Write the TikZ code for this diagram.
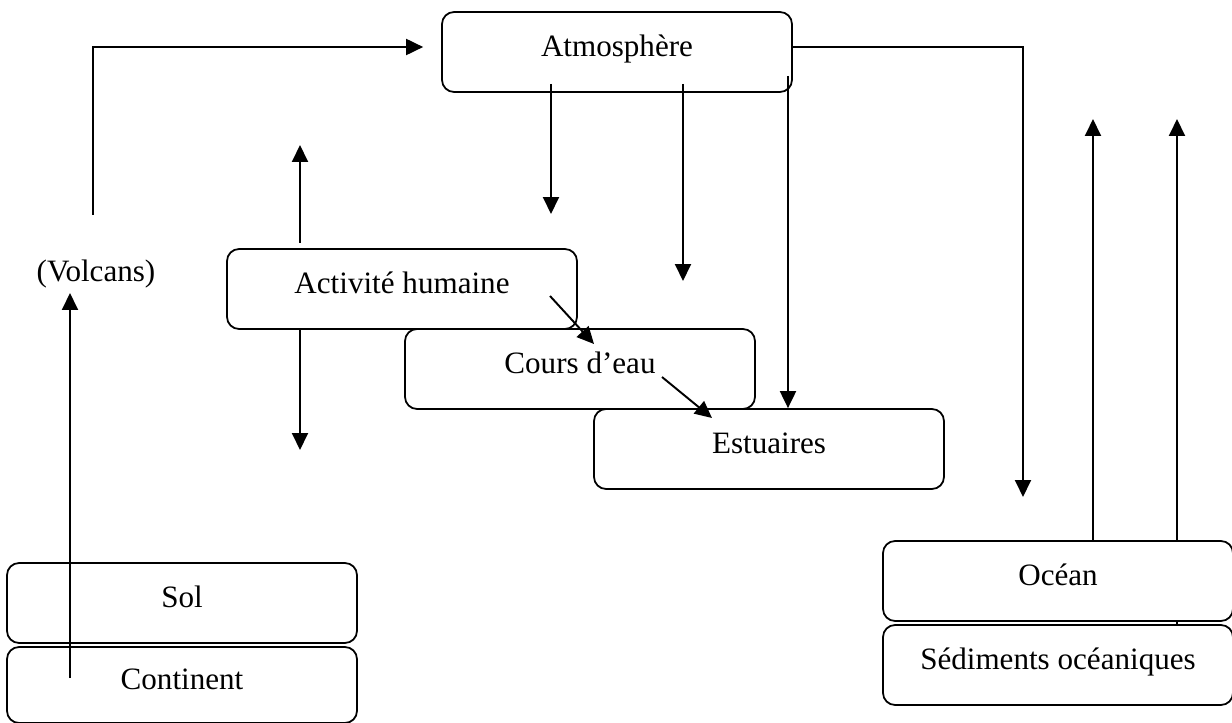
\documentclass[tikz,border=0pt]{standalone}
\usepackage{fontspec}
\setmainfont{Liberation Serif}
\usetikzlibrary{arrows.meta}

\tikzset{
  box/.style={draw, line width=1pt, rounded corners=0.24cm, minimum width=7cm, minimum height=1.6cm, text height=12pt, text depth=7pt},
  arr/.style={-{Triangle[length=0.34cm,width=0.32cm]}, line width=1.1pt},
}

\begin{document}
\begin{tikzpicture}[x=0.02cm, y=-0.02cm, font=\fontsize{17.7}{21}\selectfont]
		\useasboundingbox (0,0) rectangle (1232,723);
		\node[box] (atm) at (617,52) {Atmosphère};
		\node[box] (act) at (402,289) {Activité humaine};
		\node[box] (cours) at (580,369) {Cours d’eau};
		\node[box] (est) at (769,449) {Estuaires};
		\node[box] (sol) at (182,603) {Sol};
		\node[box, minimum height=1.52cm] (cont) at (182,685) {Continent};
		\node[box] (sed) at (1058,665) {Sédiments océaniques};
		\node (volc) at (96,274) {(Volcans)};
		%
		\coordinate (v0) at (93,215);
		\coordinate (c0) at (70,678);
		\coordinate (c1) at (70,293);
		\coordinate (o1) at (1023,497);
		\coordinate (a3) at (551,84);
		\coordinate (a4) at (551,214);
		\coordinate (a5) at (683,84);
		\coordinate (a6) at (683,281);
		\coordinate (a7) at (788,76);
		\coordinate (h1) at (300,243);
		\coordinate (h2) at (300,145);
		\coordinate (h3) at (300,450);
		\coordinate (d1) at (550,296);
		\coordinate (d2) at (594,344);
		\coordinate (d3) at (662,377);
		\coordinate (d4) at (712,418);
		\coordinate (u1) at (1177,119);
		\coordinate (u2) at (1093,119);
		%
		\draw[arr] (v0) |- ([shift={(-0.36cm,0.1cm)}]atm.west);
		\draw[arr] (c0) -- (c1);
		\draw[arr] ([yshift=0.1cm]atm.east) -| (o1);
		\draw[arr] (a3) -- (a4);
		\draw[arr] (a5) -- (a6);
		\draw[arr] (a7) -- (a7 |- est.north);
		\draw[arr] (h1) -- (h2);
		\draw[arr] (act.south -| h3) -- (h3);
		\draw[arr] (d1) -- (d2);
		\draw[arr] (d3) -- (d4);
		\draw[arr] (sed.north -| u1) -- (u1);
		%
		\node[box, fill=white] (ocean) at (1058,581) {Océan};
		\draw[arr] (ocean.north -| u2) -- (u2);
		\end{tikzpicture}
\end{document}
